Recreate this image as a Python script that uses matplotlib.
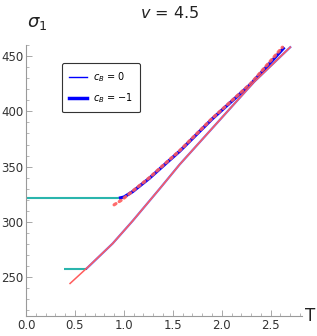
import matplotlib
matplotlib.use("Agg")
import matplotlib.pyplot as plt
from matplotlib.ticker import MultipleLocator, FormatStrFormatter
from matplotlib.lines import Line2D

# Data
teal_hi_T = [0.0, 0.95]
teal_hi_s = [321.5, 321.5]
teal_lo_T = [0.39, 0.62]
teal_lo_s = [257.6, 257.6]

blue_hi_T = [0.95, 1.0, 1.09, 1.26, 1.43, 1.57, 1.9, 2.3, 2.64]
blue_hi_s = [321.5, 322.5, 327.5, 339.5, 353.0, 364.0, 393.0, 425.0, 458.0]

red_hi_T = [0.9, 0.98, 1.09, 1.26, 1.43, 1.57, 1.9, 2.3, 2.62]
red_hi_s = [315.5, 320.0, 328.0, 340.0, 353.5, 364.5, 393.5, 425.5, 458.0]

blue_lo_T = [0.62, 0.885, 1.09, 1.37, 1.57, 2.33, 2.7]
blue_lo_s = [258.0, 280.5, 301.0, 330.5, 352.0, 426.6, 458.0]

red_lo_T = [0.45, 0.63, 0.885, 1.09, 1.37, 1.57, 2.33, 2.7]
red_lo_s = [244.4, 259.0, 280.5, 301.0, 330.5, 352.0, 426.6, 458.0]

fig = plt.figure(figsize=(3.17, 3.36), dpi=100)
ax = fig.add_axes([26/317, 1-316/336, (302-26)/317, (316-45)/336])

teal = "#2ab5ad"
blue = "#0000ff"
red = "#ff5c5c"

ax.plot(teal_hi_T, teal_hi_s, color=teal, lw=1.5, solid_capstyle="butt")
ax.plot(teal_lo_T, teal_lo_s, color=teal, lw=1.5, solid_capstyle="butt")
ax.plot(blue_hi_T, blue_hi_s, color=blue, lw=2.3, solid_capstyle="butt")
ax.plot(red_hi_T, red_hi_s, color=red, lw=2.3, alpha=0.9,
        linestyle=(0, (0.7, 1.2)), dash_capstyle="round")
ax.plot(blue_lo_T, blue_lo_s, color=blue, lw=1.6, alpha=0.6)
ax.plot(red_lo_T, red_lo_s, color=red, lw=1.1)

ax.set_xlim(0, 2.82)
ax.set_ylim(215, 460)

for s in ["top", "right"]:
    ax.spines[s].set_visible(False)
for s in ["left", "bottom"]:
    ax.spines[s].set_color("#9a9a9a")
    ax.spines[s].set_linewidth(0.8)

ax.xaxis.set_major_locator(MultipleLocator(0.5))
ax.xaxis.set_minor_locator(MultipleLocator(0.1))
ax.yaxis.set_major_locator(MultipleLocator(50))
ax.yaxis.set_minor_locator(MultipleLocator(10))
ax.set_yticks([250, 300, 350, 400, 450])
ax.xaxis.set_major_formatter(FormatStrFormatter("%.1f"))
ax.tick_params(which="major", direction="in", length=4, width=0.6,
               color="#9a9a9a", labelsize=8.5, labelcolor="#333333", pad=2)
ax.tick_params(which="minor", direction="in", length=2, width=0.5,
               color="#9a9a9a")

fig.text(310/317, 1-316/336, "T", fontsize=12, ha="center", va="center", color="#222222")
fig.text(37/317, 1-23/336, r"$\sigma_1$", fontsize=13, ha="center", va="center", color="#222222")
fig.text(170/317, 1-13/336, r"$v$ = 4.5", fontsize=11.5, ha="center", va="center", color="#222222")

handles = [Line2D([], [], color=blue, lw=1.0), Line2D([], [], color=blue, lw=2.5)]
leg = ax.legend(handles, [r"$c_B$ = 0", r"$c_B$ = $-$1"], loc="upper left",
                bbox_to_anchor=((62-26)/276, 1-(63-45)/271), borderaxespad=0,
                fontsize=7, handlelength=1.8, handletextpad=0.6, labelspacing=0.75,
                borderpad=0.75, fancybox=True, framealpha=1, edgecolor="#333333")
leg.get_frame().set_linewidth(0.8)

fig.savefig("out.png", dpi=100)
